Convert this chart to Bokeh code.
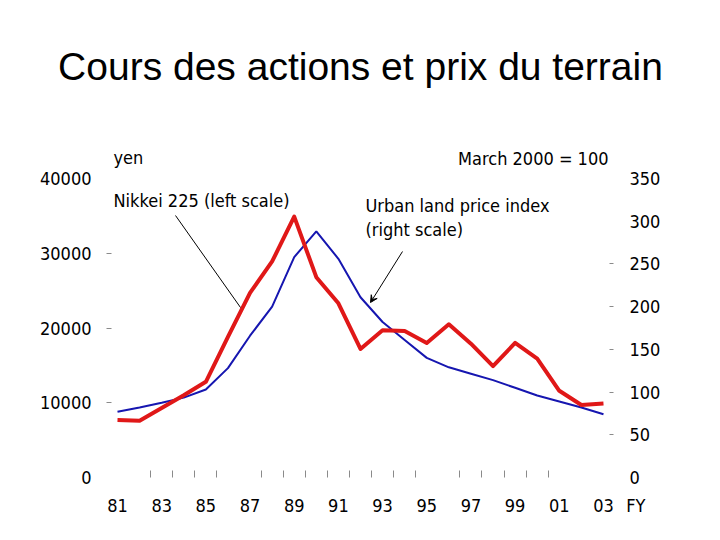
from bokeh.plotting import figure
from bokeh.models import (Range1d, LinearAxis, FixedTicker, Label, Arrow, VeeHead, Title)
from bokeh.embed import file_html
from bokeh.resources import INLINE

# ---------------- data ----------------
years = list(range(81, 104))
nikkei = [7700, 7600, 9300, 11000, 12800, 18800, 24700, 28900, 34900, 26800,
          23300, 17200, 19700, 19600, 18000, 20500, 17900, 14900, 18000, 15900,
          11600, 9700, 9900]
land_index = [77, 82, 87.5, 93.5, 103, 128, 166, 200, 258, 288,
              256, 211, 182, 161, 140, 129, 121.5, 114, 105, 96,
              89, 82, 74]
x_label_years = [81, 83, 85, 87, 89, 91, 93, 95, 97, 99, 101, 103]
x_tick_labels = ["81", "83", "85", "87", "89", "91", "93", "95", "97", "99", "01", "03"]
x_minor_marks = [82.5, 83.5, 84.5, 85.5, 87.5, 88.5, 89.5, 90.5, 91.5, 92.5,
                 93.5, 94.5, 96.5, 97.5, 98.5, 99.5, 100.5]
left_ticks = [0, 10000, 20000, 30000, 40000]
left_marks = [10000, 20000, 30000]
right_ticks = [0, 50, 100, 150, 200, 250, 300, 350]
right_marks = [50, 100, 150, 200, 250]
LEFT_MAX, RIGHT_MAX = 40000, 350

# ---------------- geometry helpers (canvas px -> data) ----------------
PX_PER_YEAR = 22.09
X0_PX = 117.0            # x of year 81
Y0_PX = 477.0            # y of value 0
PX_PER_UNIT_L = 74.75 / 10000.0

def xd(px):
    return 81 + (px - X0_PX) / PX_PER_YEAR

def yd(py):
    return (Y0_PX - py) / PX_PER_UNIT_L

W, H = 704, 524
frame_left_px, frame_right_px = 111, 609
frame_top_px, frame_bottom_px = 132, 477

x_range = Range1d(xd(frame_left_px), xd(frame_right_px))
y_top = yd(frame_top_px)
y_range = Range1d(0, y_top)

p = figure(width=W, height=H, x_range=x_range, y_range=y_range,
           output_backend="svg", toolbar_location=None,
           min_border_left=frame_left_px, min_border_right=W - frame_right_px,
           min_border_top=frame_top_px, min_border_bottom=H - frame_bottom_px,
           x_axis_location=None, y_axis_location=None)
p.outline_line_color = None
p.xgrid.visible = False
p.ygrid.visible = False
p.background_fill_color = "white"
p.border_fill_color = "white"
p.extra_y_ranges = {"right": Range1d(0, y_top * RIGHT_MAX / LEFT_MAX)}

FONT = "DejaVu Sans Condensed"
FS = "18px"
GRAY = "#8a8a8a"

p.title.text = "Cours des actions et prix du terrain"
p.title.text_font = "Liberation Sans"
p.title.text_font_size = "39px"
p.title.text_font_style = "normal"
p.title.text_color = "black"
p.title.align = "center"
p.title.vertical_align = "top"
p.title.standoff = 85

# bottom axis
xa = LinearAxis(ticker=FixedTicker(ticks=x_label_years, minor_ticks=x_minor_marks))
xa.major_label_overrides = {y: s for y, s in zip(x_label_years, x_tick_labels)}
xa.axis_line_color = None
xa.major_tick_line_color = None
xa.minor_tick_line_color = GRAY
xa.minor_tick_in = 7
xa.minor_tick_out = 0
xa.major_tick_in = 0
xa.major_tick_out = 0
xa.major_label_standoff = 21
xa.major_label_text_font = FONT
xa.major_label_text_font_size = FS
xa.major_label_text_color = "black"
p.add_layout(xa, "below")

fy = Title(text="FY", align="right", offset=-36, vertical_align="top", standoff=-40,
           text_font=FONT, text_font_size=FS, text_font_style="normal", text_color="black")
p.add_layout(fy, "below")

# left axis
ya = LinearAxis(ticker=FixedTicker(ticks=left_ticks, minor_ticks=left_marks))
ya.axis_line_color = None
ya.major_tick_line_color = None
ya.major_tick_in = 0
ya.major_tick_out = 5
ya.minor_tick_line_color = GRAY
ya.minor_tick_in = 0
ya.minor_tick_out = 5
ya.major_label_standoff = 15
ya.major_label_text_font = FONT
ya.major_label_text_font_size = FS
ya.major_label_text_color = "black"
p.add_layout(ya, "left")

# right axis
ra = LinearAxis(y_range_name="right",
                ticker=FixedTicker(ticks=right_ticks, minor_ticks=right_marks))
ra.axis_line_color = None
ra.major_tick_line_color = None
ra.major_tick_in = 0
ra.major_tick_out = 4
ra.minor_tick_line_color = GRAY
ra.minor_tick_in = 0
ra.minor_tick_out = 4
ra.major_label_standoff = 16
ra.major_label_text_font = FONT
ra.major_label_text_font_size = FS
ra.major_label_text_color = "black"
p.add_layout(ra, "right")

# ---------------- series ----------------
p.line(years, land_index, y_range_name="right", line_color="#1616b0", line_width=2)
p.line(years, nikkei, line_color="#e01818", line_width=4, line_join="round")

# ---------------- annotations ----------------
def lab(text, px, py, align="left", size=FS, font=FONT):
    p.add_layout(Label(x=xd(px), y=yd(py), text=text, text_align=align,
                       text_baseline="alphabetic", text_font=font,
                       text_font_size=size, text_color="black"))

lab("yen", 113, 157)
lab("March 2000 = 100", 608, 158, align="right")
lab("Nikkei 225 (left scale)", 113, 200)
lab("Urban land price index", 365, 205)
lab("(right scale)", 365, 229)

p.add_layout(Arrow(x_start=xd(175), y_start=yd(215), x_end=xd(240), y_end=yd(307),
                   line_color="black", line_width=1, end=None))
p.add_layout(Arrow(x_start=xd(402), y_start=yd(251), x_end=xd(370), y_end=yd(302),
                   line_color="black", line_width=1,
                   end=VeeHead(size=7, line_color="black", fill_color="black", line_width=1)))

open("out.html", "w").write(file_html(p, INLINE))
